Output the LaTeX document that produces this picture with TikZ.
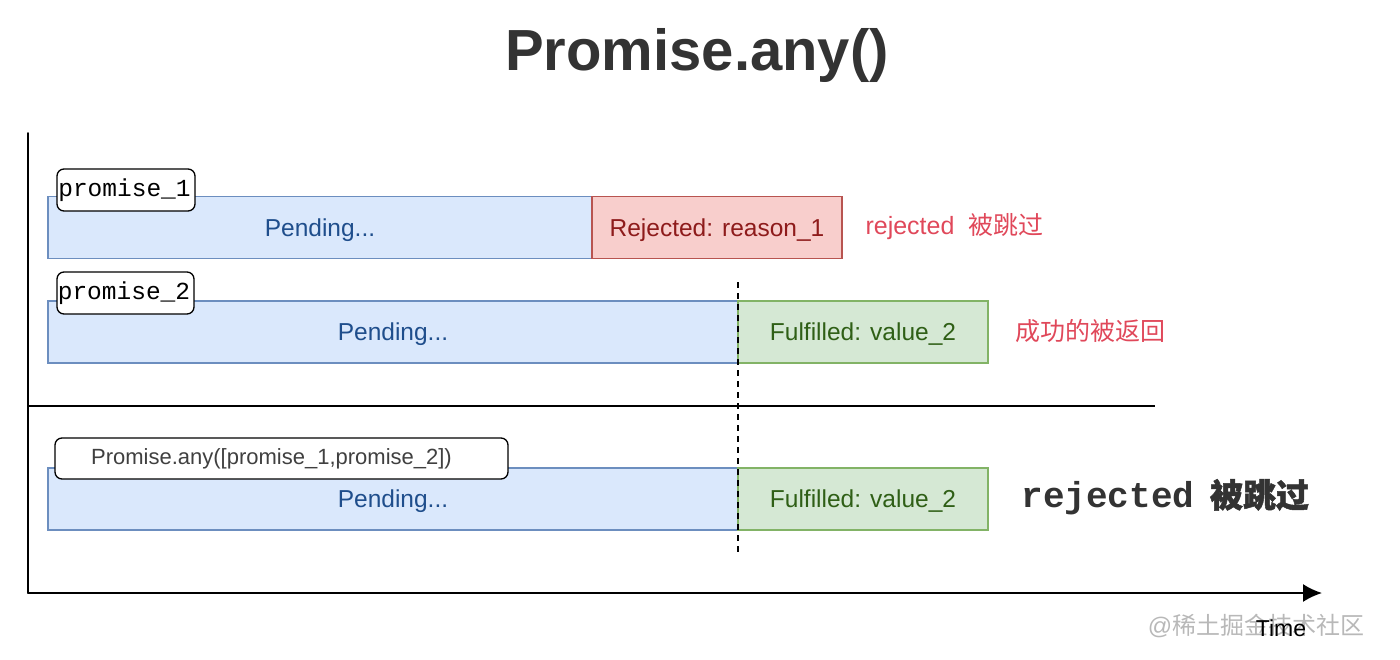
\documentclass[tikz,border=0pt]{standalone}
\usepackage{fontspec}
\setmainfont{Liberation Sans}
\setmonofont{Liberation Mono}
\newfontfamily\cjk{Noto Sans CJK SC}
\newfontfamily\cjkbold{Noto Sans CJK SC}[FakeBold=1.5]
\usepackage{tikz}
\usetikzlibrary{positioning,arrows.meta}
\definecolor{pendfill}{HTML}{DAE8FC}
\definecolor{penddraw}{HTML}{6C8EBF}
\definecolor{pendtext}{HTML}{1F4E8C}
\definecolor{rejfill}{HTML}{F8CECC}
\definecolor{rejdraw}{HTML}{B85450}
\definecolor{rejtext}{HTML}{8E1B1B}
\definecolor{fulfill}{HTML}{D5E8D4}
\definecolor{fuldraw}{HTML}{82B366}
\definecolor{fultext}{HTML}{2F5F16}
\definecolor{notered}{HTML}{E0485A}
\definecolor{titlegray}{HTML}{333333}
\tikzset{
  stbox/.style={draw, line width=1.3pt, inner sep=0pt, outer sep=0pt, minimum height=62pt, text depth=0pt, font=\fontsize{24.5}{28}\selectfont},
  pendbox/.style={stbox, fill=pendfill, draw=penddraw, text=pendtext},
  rejbox/.style={stbox, fill=rejfill, draw=rejdraw, text=rejtext, minimum width=250pt},
  fulbox/.style={stbox, fill=fulfill, draw=fuldraw, text=fultext, minimum width=250pt},
  tagbox/.style={draw, line width=1.3pt, rounded corners=7pt, fill=white, inner sep=0pt, minimum height=42pt},
  sidenote/.style={anchor=west, text=notered, font=\fontsize{25}{28}\selectfont},
  axisline/.style={line width=1.8pt, line cap=round}
}

\begin{document}
\begin{tikzpicture}[x=1pt, y=-1pt]
  \useasboundingbox (0,0) rectangle (1400,659);
  \node[text=titlegray, font=\fontsize{58}{64}\selectfont\bfseries] (title) at (697,56) {Promise.any()};

  % axes
  \coordinate (origin) at (28,593);
  \coordinate (ytop) at (28,133);
  \coordinate (xend) at (1322,593);
  \draw[axisline] (ytop) -- (origin);
  \draw[axisline, -{Latex[length=19pt,width=18pt]}] (origin) -- (xend);
  \node[text=black!28, font=\fontsize{24}{26}\selectfont] (wmark) at (1256,626) {@\cjk 稀土掘金技术社区};
  \node[font=\fontsize{23}{26}\selectfont] (timelbl) at (1281,628) {Time};

  % separator
  \coordinate (sepl) at (28,406);
  \coordinate (sepr) at (1155,406);
  \draw[line width=1.5pt] (sepl) -- (sepr);

  % promise_1
  \node[pendbox, minimum width=544pt] (p1pend) at (320,227.5) {Pending...};
  \node[rejbox, right=0pt of p1pend] (p1rej) {Rejected: reason\_1};
  \node[sidenote] (p1note) at (862,227) {rejected\hspace{7pt} \cjk 被跳过};
  \node[tagbox, minimum width=138pt, font=\ttfamily\fontsize{24.5}{28}\selectfont] (p1tag) at (126,190) {\hspace*{-3pt}promise\_1};

  % promise_2
  \node[pendbox, minimum width=690pt] (p2pend) at (393,332) {Pending...};
  \node[fulbox, right=0pt of p2pend] (p2ful) {Fulfilled: value\_2};
  \node[sidenote] (p2note) at (1012,331) {\cjk 成功的被返回};
  \node[tagbox, minimum width=137pt, font=\ttfamily\fontsize{24.5}{28}\selectfont] (p2tag) at (125.5,293) {\hspace*{-3pt}promise\_2};

  % Promise.any result
  \node[pendbox, minimum width=690pt] (anypend) at (393,499) {Pending...};
  \node[fulbox, right=0pt of anypend] (anyful) {Fulfilled: value\_2};
  \node[tagbox, minimum width=453pt, minimum height=41pt, text=black!75, font=\fontsize{22}{26}\selectfont] (anytag) at (281.5,458.5) {\hspace*{-20pt}Promise.any([promise\_1,promise\_2])};
  \node[anchor=west, text=black!80, font=\ttfamily\bfseries\fontsize{36}{40}\selectfont] (anynote) at (1018,497) {rejected\hspace{-6pt} \cjkbold\fontsize{33}{40}\selectfont 被跳过};

  % settle moment
  \coordinate (dtop) at (738,282);
  \coordinate (dbot) at (738,552);
  \draw[line width=1.3pt, dash pattern=on 6pt off 5pt] (dtop) -- (dbot);
\end{tikzpicture}
\end{document}
